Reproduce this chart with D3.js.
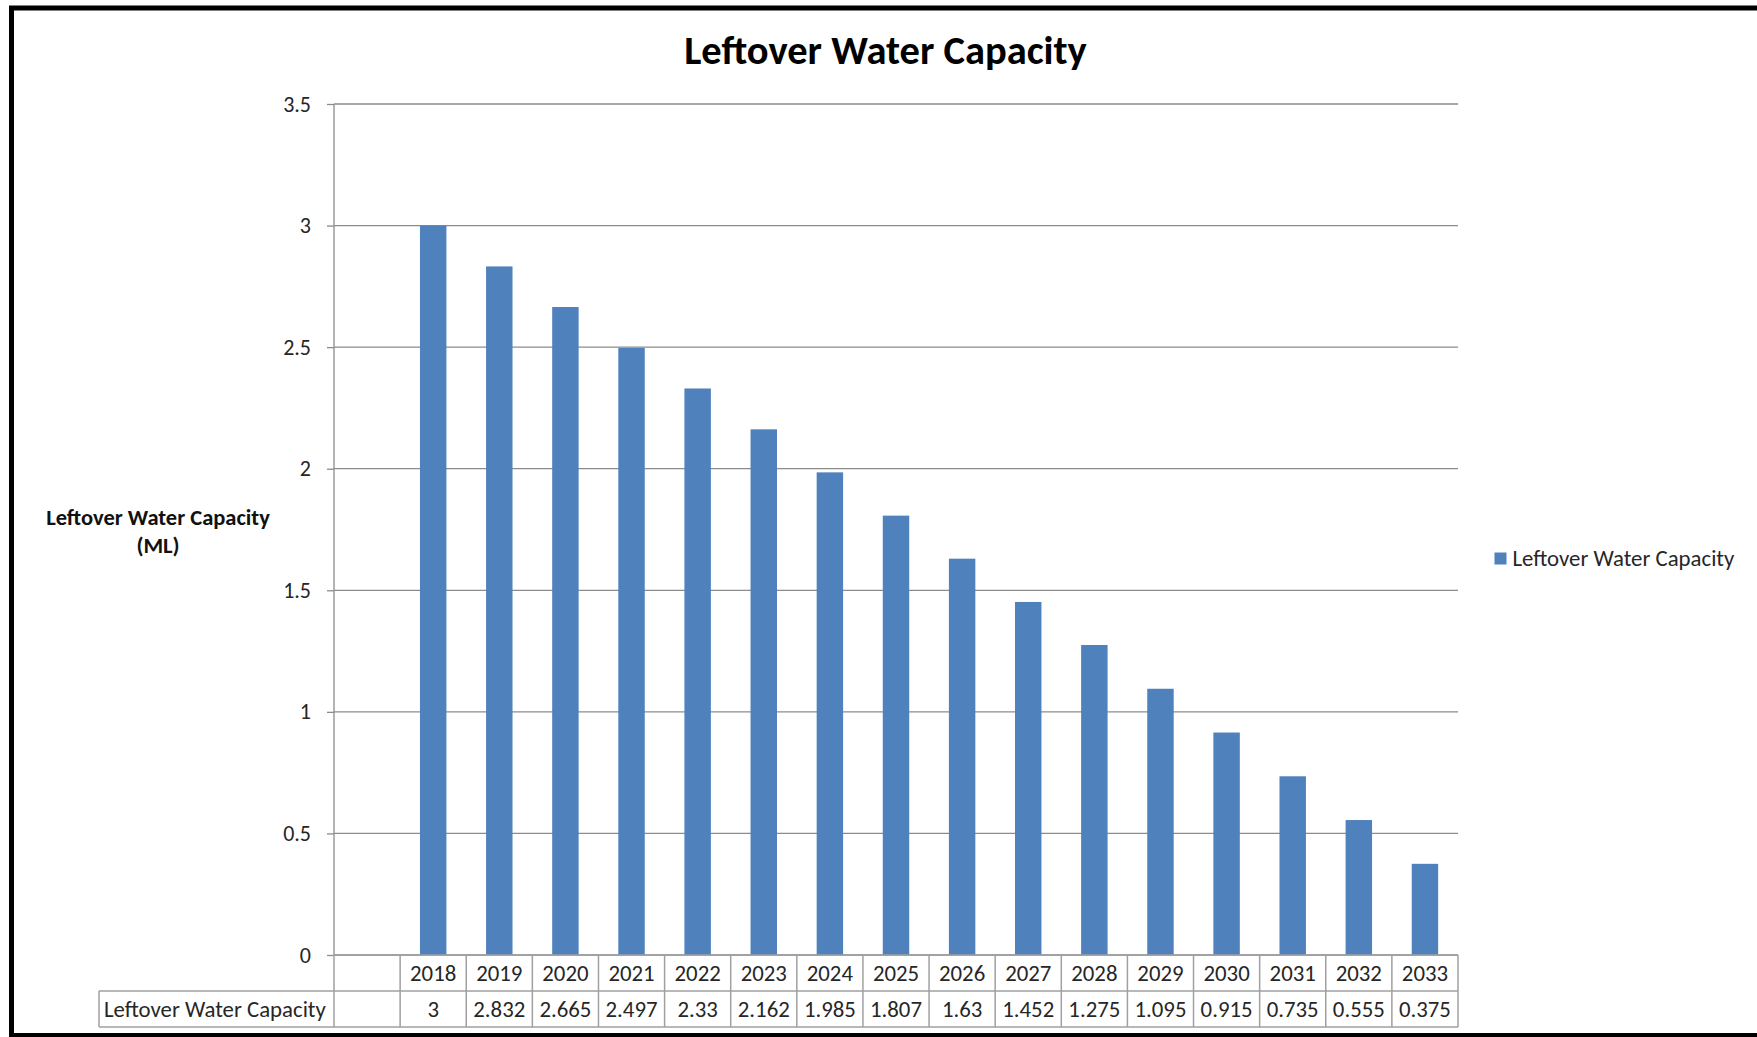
<!DOCTYPE html>
<html>
<head>
<meta charset="utf-8">
<script src="https://cdn.jsdelivr.net/npm/d3@7/dist/d3.min.js"></script>
<style>
  html, body { margin: 0; padding: 0; background: #ffffff; }
  svg { display: block; }
  text { font-family: Carlito, Calibri, Lato, "Open Sans", sans-serif; }
</style>
</head>
<body>
<svg id="chart" width="1757" height="1037"></svg>
<script>
// Years on the category axis (the first slot is an empty category)
const categories = ["", "2018", "2019", "2020", "2021", "2022", "2023", "2024", "2025",
  "2026", "2027", "2028", "2029", "2030", "2031", "2032", "2033"];
// Remaining capacity in ML for each year (null for the empty slot)
const capacityValues = [null, 3, 2.832, 2.665, 2.497, 2.33, 2.162, 1.985, 1.807,
  1.63, 1.452, 1.275, 1.095, 0.915, 0.735, 0.555, 0.375];
// Value-axis tick labels
const yTicks = [0, 0.5, 1, 1.5, 2, 2.5, 3, 3.5];
const seriesName = "Leftover Water Capacity";
const chartTitle = "Leftover Water Capacity";
const yTitleLines = ["Leftover Water Capacity", "(ML)"];

const W = 1757, H = 1037;
const plot = { left: 334, right: 1458, top: 104, bottom: 955 };
const rowH = 36;
const labelCellLeft = 99;
const barColor = "#4f81bd";
const gridColor = "#8c8c8c";
const tableColor = "#a0a0a0";
const textColor = "#262626";
const fontSize = 22.8;

const svg = d3.select("#chart");

svg.append("rect").attr("width", W).attr("height", H).attr("fill", "#fff");

// Outer frame
svg.append("rect")
  .attr("x", 11.5).attr("y", 8)
  .attr("width", W + 20).attr("height", 1027.5)
  .attr("fill", "none").attr("stroke", "#000").attr("stroke-width", 5);

const x = d3.scaleBand()
  .domain(d3.range(categories.length))
  .range([plot.left, plot.right])
  .paddingInner(0.6)
  .paddingOuter(0.3);
const xCell = d3.scaleBand()
  .domain(d3.range(categories.length))
  .range([plot.left, plot.right])
  .padding(0);

const y = d3.scaleLinear().domain([0, 3.5]).range([plot.bottom, plot.top]);

// Title
svg.append("text")
  .attr("x", 885.5).attr("y", 64)
  .attr("text-anchor", "middle")
  .attr("font-size", 40.5).attr("font-weight", "bold")
  .attr("fill", "#000")
  .text(chartTitle);

// Gridlines + value axis
const yAxis = d3.axisLeft(y)
  .tickValues(yTicks)
  .tickSize(7)
  .tickPadding(16)
  .tickFormat(d => String(d));
const gy = svg.append("g")
  .attr("transform", `translate(${plot.left},0)`)
  .call(yAxis);
gy.select(".domain").remove();
gy.selectAll(".tick line").attr("stroke", gridColor).attr("stroke-width", 1.3);
gy.selectAll(".tick text")
  .attr("font-size", 22)
  .attr("fill", textColor)
  .attr("dy", "0.32em")
  .style("font-family", "Carlito, Calibri, Lato, 'Open Sans', sans-serif");

svg.append("g").selectAll("line")
  .data(yTicks)
  .join("line")
  .attr("x1", plot.left).attr("x2", plot.right)
  .attr("y1", d => y(d)).attr("y2", d => y(d))
  .attr("stroke", gridColor).attr("stroke-width", 1.3);

// Vertical value-axis line
svg.append("line")
  .attr("x1", plot.left).attr("x2", plot.left)
  .attr("y1", plot.top).attr("y2", plot.bottom)
  .attr("stroke", gridColor).attr("stroke-width", 1.3);

// Bars
const barData = capacityValues.map((v, i) => ({ i, v })).filter(d => d.v !== null);
svg.append("g").selectAll("rect")
  .data(barData)
  .join("rect")
  .attr("x", d => x(d.i))
  .attr("width", x.bandwidth())
  .attr("y", d => y(d.v))
  .attr("height", d => y(0) - y(d.v))
  .attr("fill", barColor);

// Data table under the plot
const table = svg.append("g");
const t0 = plot.bottom, t1 = plot.bottom + rowH, t2 = plot.bottom + 2 * rowH;

table.append("line")
  .attr("x1", plot.left).attr("x2", plot.right)
  .attr("y1", t0).attr("y2", t0)
  .attr("stroke", tableColor).attr("stroke-width", 1.5);
[t1, t2].forEach(yy => {
  table.append("line")
    .attr("x1", labelCellLeft).attr("x2", plot.right)
    .attr("y1", yy).attr("y2", yy)
    .attr("stroke", tableColor).attr("stroke-width", 1.5);
});
table.append("line")
  .attr("x1", labelCellLeft).attr("x2", labelCellLeft)
  .attr("y1", t1).attr("y2", t2)
  .attr("stroke", tableColor).attr("stroke-width", 1.5);
table.selectAll("line.col")
  .data(d3.range(categories.length + 1))
  .join("line")
  .attr("class", "col")
  .attr("x1", i => plot.left + i * xCell.step())
  .attr("x2", i => plot.left + i * xCell.step())
  .attr("y1", t0).attr("y2", t2)
  .attr("stroke", tableColor).attr("stroke-width", 1.5);

table.selectAll("text.year")
  .data(categories.map((c, i) => ({ c, i })))
  .join("text")
  .attr("class", "year")
  .attr("x", d => xCell(d.i) + xCell.bandwidth() / 2)
  .attr("y", t0 + 26)
  .attr("text-anchor", "middle")
  .attr("font-size", fontSize)
  .attr("fill", textColor)
  .text(d => d.c);

table.selectAll("text.val")
  .data(capacityValues.map((v, i) => ({ v, i })))
  .join("text")
  .attr("class", "val")
  .attr("x", d => xCell(d.i) + xCell.bandwidth() / 2)
  .attr("y", t1 + 25.5)
  .attr("text-anchor", "middle")
  .attr("font-size", fontSize)
  .attr("fill", textColor)
  .text(d => d.v === null ? "" : String(d.v));

table.append("text")
  .attr("x", labelCellLeft + 5).attr("y", t1 + 25.5)
  .attr("font-size", fontSize)
  .attr("fill", textColor)
  .text(seriesName);

// Value-axis title
const yt = svg.append("text")
  .attr("text-anchor", "middle")
  .attr("font-size", 22.5)
  .attr("font-weight", "bold")
  .attr("fill", "#111");
yTitleLines.forEach((line, k) => {
  yt.append("tspan").attr("x", 158).attr("y", 525 + k * 28).text(line);
});

// Legend
const lg = svg.append("g");
lg.append("rect")
  .attr("x", 1494.5).attr("y", 552.5)
  .attr("width", 12).attr("height", 12)
  .attr("fill", barColor);
lg.append("text")
  .attr("x", 1512.5).attr("y", 566)
  .attr("font-size", fontSize)
  .attr("fill", textColor)
  .text(seriesName);
</script>
</body>
</html>
